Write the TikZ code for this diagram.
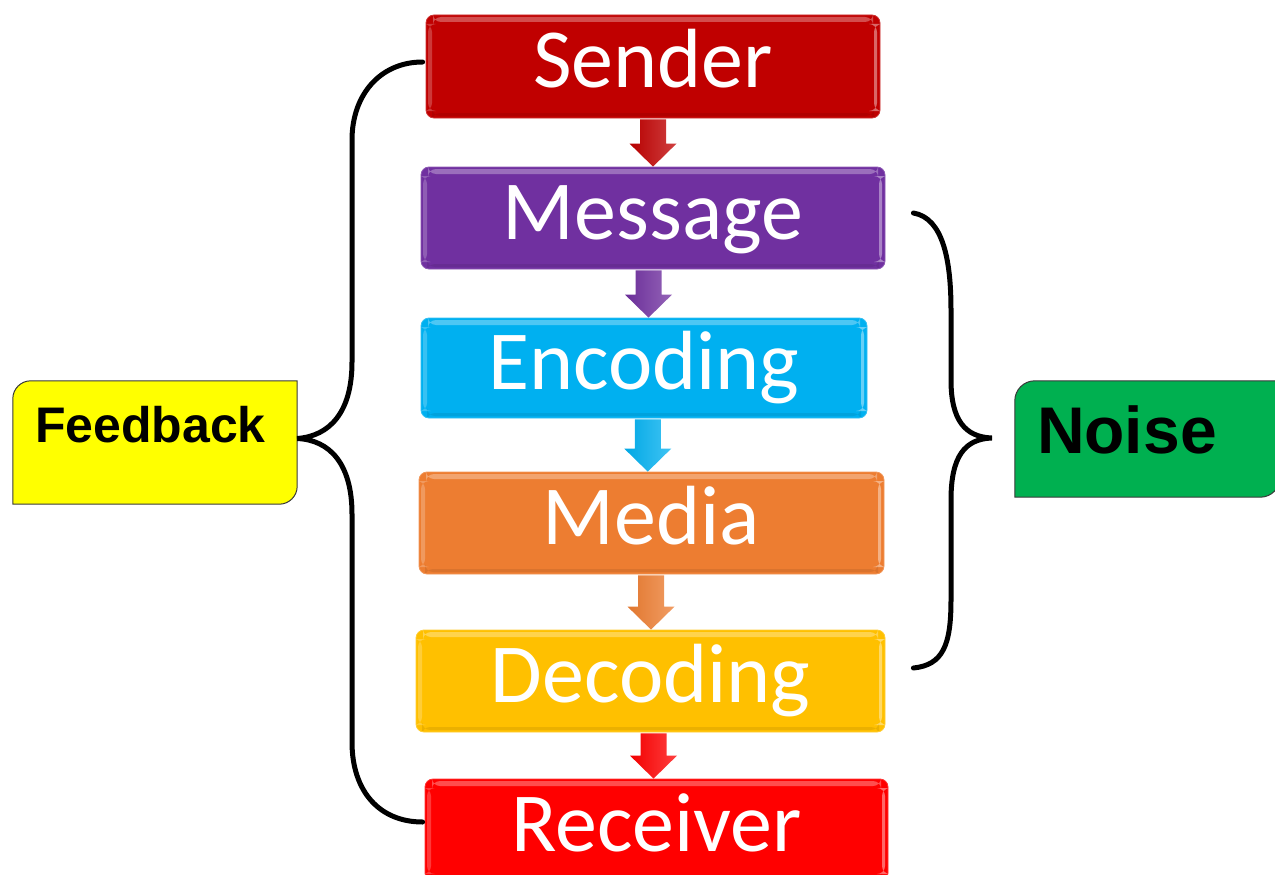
\documentclass[tikz,border=0pt]{standalone}
\usepackage{fontspec}
\setmainfont{Carlito}
\newfontfamily\tagfont{Liberation Sans}
\usetikzlibrary{calc}

\definecolor{senderred}{HTML}{C00000}
\definecolor{msgpurple}{HTML}{7030A0}
\definecolor{enccyan}{HTML}{00B0F0}
\definecolor{mediaorange}{HTML}{ED7D31}
\definecolor{decgold}{HTML}{FFC000}
\definecolor{recvred}{HTML}{FF0000}
\definecolor{fbyellow}{HTML}{FFFF00}
\definecolor{noisegreen}{HTML}{00B050}
\definecolor{tagedge}{HTML}{3A3A3A}

\tikzset{
  % glossy bevelled process box
  stage/.style={rectangle, rounded corners=8pt, fill=#1, draw=#1!80!white,
    line width=0.8pt, text=white, inner sep=0pt,
    font=\fontsize{84}{84}\selectfont, text height=60pt, text depth=17pt,
    path picture={
      \fill[white, opacity=0.30]
        ([shift={(7pt,-2pt)}]path picture bounding box.north west) rectangle
        ([shift={(-7pt,-7pt)}]path picture bounding box.north east);
      \fill[white, opacity=0.22]
        ([shift={(2pt,-9pt)}]path picture bounding box.north west) rectangle
        ([shift={(6pt,7pt)}]path picture bounding box.south west);
      \fill[white, opacity=0.40]
        ([shift={(-6pt,-9pt)}]path picture bounding box.north east) rectangle
        ([shift={(-3pt,7pt)}]path picture bounding box.south east);
      \fill[black, opacity=0.08]
        ([shift={(6pt,2pt)}]path picture bounding box.south west) rectangle
        ([shift={(-6pt,5pt)}]path picture bounding box.south east);
    }},
  tagframe/.style={rectangle, inner sep=0pt},
  tagshape/.style={fill=#1, draw=tagedge, line width=1pt},
  taglabel/.style={inner sep=0pt, anchor=base west, text=black},
  brace/.style={draw=black, line width=5pt, line cap=round}
}

% block arrow between two stacked boxes
\newcommand\flowarrow[3]{%
  \shade[left color=#3!95!black, middle color=#3, right color=#3!75!white]
    let \p1=(#1.south), \p2=(#2.north), \n1={(\x1+\x2)/2} in
    (\n1-13pt,\y1-1pt) -- (\n1+13pt,\y1-1pt) -- (\n1+13pt,\y2+23pt)
    -- (\n1+23.5pt,\y2+23pt) -- (\n1,\y2) -- (\n1-23.5pt,\y2+23pt)
    -- (\n1-13pt,\y2+23pt) -- cycle;}

\begin{document}
\begin{tikzpicture}[x=1pt,y=1pt]
\useasboundingbox (0,0) rectangle (1275,-875);

% process chain
\node[stage=senderred,   minimum width=454pt, minimum height=103pt] (sender)   at (653,-66.5) {Sender};
\node[stage=msgpurple,   minimum width=464pt, minimum height=102pt] (message)  at (653,-218)  {Message};
\node[stage=enccyan,     minimum width=446pt, minimum height=100pt] (encoding) at (644,-368)  {Encoding};
\node[stage=mediaorange, minimum width=465pt, minimum height=102pt] (media)    at (651.5,-523) {Media};
\node[stage=decgold,     minimum width=469pt, minimum height=102pt] (decoding) at (650.5,-681) {Decoding};
\node[stage=recvred,     minimum width=463pt, minimum height=102pt] (receiver) at (656.5,-830) {Receiver};

\flowarrow{sender}{message}{senderred}
\flowarrow{message}{encoding}{msgpurple}
\flowarrow{encoding}{media}{enccyan}
\flowarrow{media}{decoding}{mediaorange}
\flowarrow{decoding}{receiver}{recvred}

% feedback tag
\node[tagframe, minimum width=284pt, minimum height=123pt] (feedback) at (155,-442.5) {};
\draw[tagshape=fbyellow]
  (feedback.south west) -- ([yshift=-18pt]feedback.north west)
  arc[start angle=180, end angle=90, radius=18pt] -- (feedback.north east)
  -- ([yshift=18pt]feedback.south east)
  arc[start angle=0, end angle=-90, radius=18pt] -- cycle;
\node[taglabel, font=\tagfont\bfseries\fontsize{50}{50}\selectfont] (fblabel)
  at ([shift={(22pt,0.5pt)}]feedback.west) {Feedback};

% noise tag
\node[tagframe, minimum width=265pt, minimum height=116pt] (noise) at (1147.5,-439) {};
\draw[tagshape=noisegreen]
  (noise.south west) -- ([yshift=-20pt]noise.north west)
  arc[start angle=180, end angle=90, radius=20pt] -- (noise.north east)
  -- ([yshift=20pt]noise.south east)
  arc[start angle=0, end angle=-90, radius=20pt] -- cycle;
\node[taglabel, font=\tagfont\bfseries\fontsize{66}{66}\selectfont] (noiselabel)
  at ([shift={(22pt,-14pt)}]noise.west) {Noise};

% feedback brace: sender ... receiver
\coordinate (fbtip) at ([yshift=4pt]feedback.east);
\coordinate (fbtop) at ([shift={(-3pt,4.5pt)}]sender.west);
\coordinate (fbbot) at ([shift={(-2pt,8pt)}]receiver.west);
\draw[brace] (fbtop) .. controls (380,-62) and (352,-95) .. (352,-140)
  -- (352,-362) .. controls (352,-412) and (330,-436) .. (fbtip)
  .. controls (330,-440) and (352,-464) .. (352,-514)
  -- (352,-742) .. controls (352,-792) and (380,-822) .. (fbbot);

% noise brace: message ... decoding
\coordinate (nztop) at ([shift={(28pt,5pt)}]message.east);
\coordinate (nzbot) at ([shift={(28pt,13pt)}]decoding.east);
\coordinate (nztip) at ([shift={(-23pt,1pt)}]noise.west);
\draw[brace] (nztop) .. controls (943,-218) and (951,-260) .. (951,-310)
  -- (951,-380) .. controls (951,-420) and (965,-437) .. (nztip)
  .. controls (965,-439) and (951,-456) .. (951,-500)
  -- (951,-600) .. controls (951,-645) and (943,-665) .. (nzbot);
\end{tikzpicture}
\end{document}
